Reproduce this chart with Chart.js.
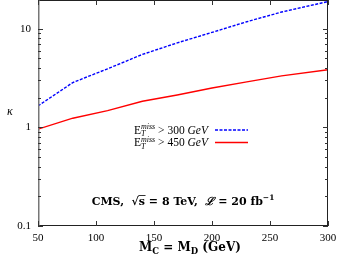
<!DOCTYPE html>
<html>
<head>
<meta charset="utf-8">
<script src="https://cdn.jsdelivr.net/npm/chart.js@4.4.1/dist/chart.umd.min.js"></script>
<style>
  html, body { margin: 0; padding: 0; background: #fff; }
  #wrap { width: 339px; height: 263px; }
</style>
</head>
<body>
<div id="wrap"><canvas id="kappaChart"></canvas></div>
<script>
// masse M_C = M_D (GeV) e valori di kappa
const mass = [50, 80, 110, 140, 170, 200, 230, 260, 300];
const kappa300 = [1.65, 2.85, 3.93, 5.5, 7.2, 9.2, 11.8, 14.8, 18.9];
const kappa450 = [0.96, 1.24, 1.48, 1.84, 2.13, 2.51, 2.9, 3.33, 3.84];
const xTicks = [50, 100, 150, 200, 250, 300];
const yTicks = [0.1, 1, 10];
const cuts = ['300', '450'];

const SERIF = '"Liberation Serif", "DejaVu Serif", serif';
const WIDE = '"DejaVu Serif", "Liberation Serif", serif';

function toPoints(ys) {
    return mass.map((m, i) => ({ x: m, y: ys[i] }));
}

// disegna pezzi di testo con stile diverso uno dopo l'altro
function drawRuns(ctx, runs, x, y, align) {
    let total = 0;
    runs.forEach(r => { ctx.font = r.font; total += ctx.measureText(r.t).width + (r.gap || 0); });
    let cx = align === 'center' ? x - total / 2 : (align === 'right' ? x - total : x);
    const pos = [];
    runs.forEach(r => {
        ctx.font = r.font;
        ctx.fillText(r.t, cx, y + (r.dy || 0));
        const w = ctx.measureText(r.t).width;
        pos.push({ x: cx, w: w });
        cx += w + (r.gap || 0);
    });
    return pos;
}

const framePlugin = {
    id: 'frame',
    afterDraw(chart) {
        const { ctx, chartArea: a, scales } = chart;
        const xs = scales.x, ys = scales.y;
        ctx.save();

        // cornice
        ctx.lineWidth = 1;
        ctx.strokeStyle = '#222';
        ctx.beginPath();
        ctx.moveTo(a.left, a.top + 0.5); ctx.lineTo(a.right, a.top + 0.5);
        ctx.moveTo(a.right - 0.5, a.top); ctx.lineTo(a.right - 0.5, a.bottom);
        ctx.moveTo(a.left, a.bottom - 0.5); ctx.lineTo(a.right, a.bottom - 0.5);
        ctx.stroke();
        ctx.strokeStyle = '#777';
        ctx.lineWidth = 1.5;
        ctx.beginPath();
        ctx.moveTo(a.left + 0.75, a.top); ctx.lineTo(a.left + 0.75, a.bottom);
        ctx.stroke();

        // tacche verso l'interno
        ctx.strokeStyle = '#333';
        ctx.lineWidth = 1;
        ctx.beginPath();
        xTicks.forEach(v => {
            const px = Math.round(xs.getPixelForValue(v)) + 0.5;
            ctx.moveTo(px, a.bottom); ctx.lineTo(px, a.bottom - 5);
            ctx.moveTo(px, a.top); ctx.lineTo(px, a.top + 5);
        });
        yTicks.forEach(d => {
            for (let k = 1; k <= 9; k++) {
                const v = d * k;
                if (v > ys.max) continue;
                const len = k === 1 ? 5 : 3;
                const py = Math.round(ys.getPixelForValue(v)) + 0.5;
                ctx.moveTo(a.left, py); ctx.lineTo(a.left + len, py);
                ctx.moveTo(a.right, py); ctx.lineTo(a.right - len, py);
            }
        });
        ctx.stroke();

        ctx.fillStyle = '#000';
        ctx.textBaseline = 'alphabetic';
        ctx.textAlign = 'left';

        // titolo asse x
        const b = 'bold 12px ' + WIDE, bs = 'bold 8.5px ' + WIDE;
        drawRuns(ctx, [
            { t: 'M', font: b }, { t: 'C', font: bs, dy: 2.5 },
            { t: ' = M', font: b }, { t: 'D', font: bs, dy: 2.5 },
            { t: ' (GeV)', font: b }
        ], 190, a.bottom + 25, 'center');

        // titolo asse y
        ctx.font = 'italic 12px ' + SERIF;
        ctx.fillText('\u03BA', 7, 115);

        // legenda
        const n = '11.5px ' + SERIF, it = 'italic 11.5px ' + SERIF, sm = 'italic 8px ' + SERIF;
        const styles = [{ c: '#0000ff', dash: [3, 1.5] }, { c: '#ff0000', dash: [] }];
        cuts.forEach((cut, i) => {
            const yy = a.top + 133.5 + i * 12.5;
            const pos = drawRuns(ctx, [
                { t: 'E', font: n }, { t: 'miss', font: sm, dy: -4.5 },
                { t: ' > ' + cut + ' ', font: n }, { t: 'GeV', font: it }
            ], 208, yy, 'right');
            ctx.font = sm;
            ctx.fillText('T', pos[1].x, yy + 2.5);
            ctx.strokeStyle = styles[i].c;
            ctx.lineWidth = 1.4;
            ctx.setLineDash(styles[i].dash);
            ctx.beginPath();
            ctx.moveTo(215, yy - 3.5); ctx.lineTo(248, yy - 3.5);
            ctx.stroke();
            ctx.setLineDash([]);
        });

        // annotazione CMS
        const cb = 'bold 11px ' + WIDE, cbs = 'bold 7.5px ' + WIDE, ci = 'bold italic 11px ' + WIDE;
        const yy = a.top + 205;
        const p = drawRuns(ctx, [
            { t: 'CMS,  ', font: cb }, { t: '\u221A', font: cb }, { t: 's', font: cb },
            { t: ' = 8 TeV,  ', font: cb }, { t: '\u2112', font: ci },
            { t: ' = 20 fb', font: cb }, { t: '\u22121', font: cbs, dy: -5 }
        ], 183, yy, 'center');
        ctx.strokeStyle = '#000';
        ctx.lineWidth = 0.8;
        ctx.beginPath();
        ctx.moveTo(p[2].x - 0.5, yy - 9.5); ctx.lineTo(p[2].x + p[2].w + 0.5, yy - 9.5);
        ctx.stroke();

        ctx.restore();
    }
};

new Chart(document.getElementById('kappaChart'), {
    type: 'line',
    data: {
        datasets: [
            {
                label: 'E_T^miss > 300 GeV',
                data: toPoints(kappa300),
                borderColor: '#0000ff',
                borderWidth: 1.4,
                borderDash: [3, 1.5],
                pointRadius: 0,
                tension: 0
            },
            {
                label: 'E_T^miss > 450 GeV',
                data: toPoints(kappa450),
                borderColor: '#ff0000',
                borderWidth: 1.4,
                pointRadius: 0,
                tension: 0
            }
        ]
    },
    options: {
        responsive: true,
        maintainAspectRatio: false,
        animation: false,
        layout: { padding: { top: 0, right: 11, left: 0, bottom: 0 } },
        plugins: { legend: { display: false }, tooltip: { enabled: false } },
        scales: {
            x: {
                type: 'linear',
                min: 50,
                max: 300,
                afterBuildTicks: s => { s.ticks = xTicks.map(v => ({ value: v })); },
                afterFit: s => { s.height = 37; s.paddingLeft = 0; s.paddingRight = 0; },
                grid: { display: false, drawTicks: false },
                border: { display: false },
                ticks: {
                    autoSkip: false,
                    maxRotation: 0,
                    padding: 6,
                    color: '#000',
                    font: { family: SERIF, size: 11 }
                }
            },
            y: {
                type: 'logarithmic',
                min: 0.1,
                max: 19.6,
                afterBuildTicks: s => { s.ticks = yTicks.map(v => ({ value: v })); },
                afterFit: s => { s.width = 38; s.paddingTop = 0; s.paddingBottom = 0; },
                grid: { display: false, drawTicks: false },
                border: { display: false },
                ticks: {
                    autoSkip: false,
                    padding: 7,
                    color: '#000',
                    font: { family: SERIF, size: 11 },
                    callback: v => String(v)
                }
            }
        }
    },
    plugins: [framePlugin]
});
</script>
</body>
</html>
